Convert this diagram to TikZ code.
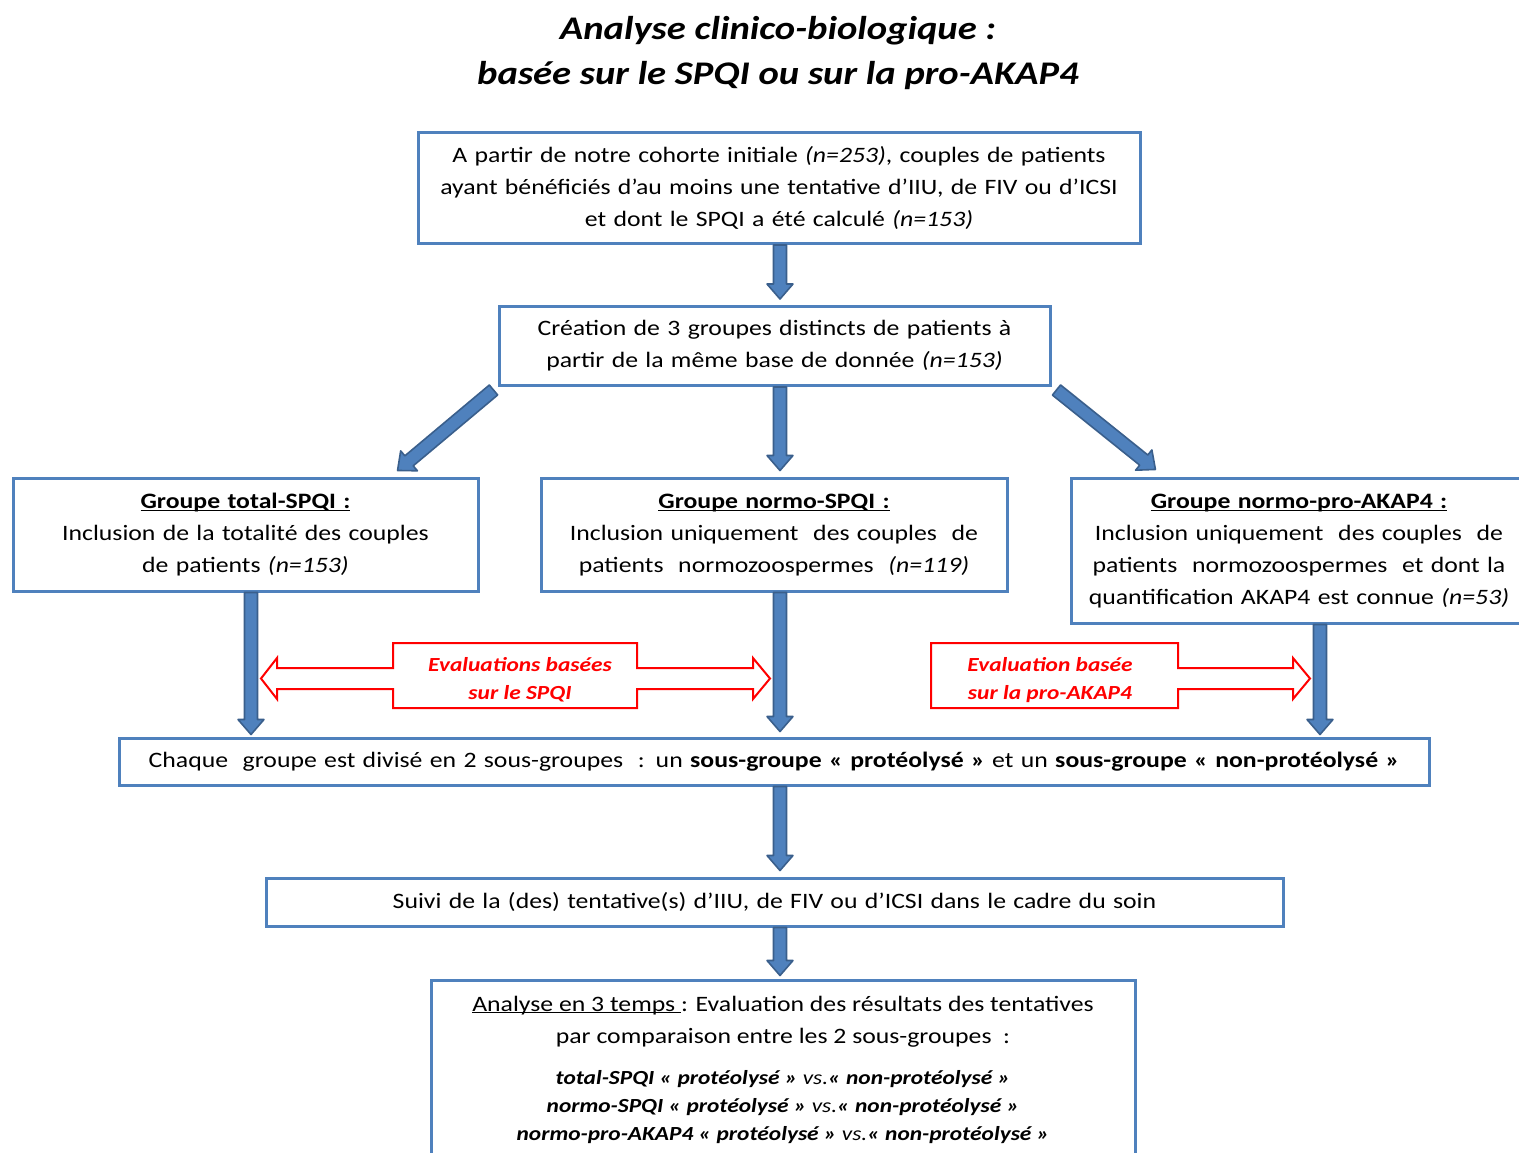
\documentclass[tikz,border=0pt]{standalone}
\usepackage{fontspec}
\setmainfont[FakeStretch=1.17]{Carlito}
\usetikzlibrary{calc}
\definecolor{bline}{RGB}{79,129,189}
\definecolor{bfill}{RGB}{79,129,189}
\definecolor{bdark}{RGB}{58,95,140}
\definecolor{rred}{RGB}{255,0,0}
\newcommand\ulx[1]{\underline{\smash{#1}}\vphantom{A(}}
\newcommand\blockarrow[2]{%
  \path[draw=bdark, fill=bfill, line width=1.6pt, line join=round]
    let \p1=#1, \p2=#2, \n1={veclen(\x2-\x1,\y2-\y1)}, \n2={atan2(\y2-\y1,\x2-\x1)} in
    [shift={(\p1)}, rotate=\n2]
    (0pt,-6.5pt) -- (\n1-15pt,-6.5pt) -- (\n1-15pt,-13pt) -- (\n1,0pt) -- (\n1-15pt,13pt) -- (\n1-15pt,6.5pt) -- (0pt,6.5pt) -- cycle;}
\tikzset{
  box/.style={draw=bline, line width=3pt, fill=white, inner sep=0pt, align=center,
    font=\fontsize{22}{32}\selectfont},
  redtxt/.style={text=rred, align=center, inner sep=0pt,
    font=\fontsize{20}{28}\selectfont\bfseries\itshape},
  callout/.style={draw=rred, line width=2pt, fill=white, line join=miter},
}
\begin{document}
\begin{tikzpicture}[x=1pt,y=-1pt]
\path[use as bounding box, fill=white] (0,0) rectangle (1519,1152);
\coordinate (axis) at (780,0);

\node[align=center, inner sep=0pt, font=\fontsize{33}{45}\selectfont\bfseries\itshape] (title) at (778,53)
  {Analyse clinico-biologique :\\basée sur le SPQI ou sur la pro-AKAP4};

\node[box, minimum width=722, minimum height=111, text width=712] (b1) at (779,188)
  {A partir de notre cohorte initiale \textit{(n=253)}, couples de patients\\
   ayant bénéficiés d’au moins une tentative d’IIU, de FIV ou d’ICSI\\
   et dont le SPQI a été calculé \textit{(n=153)}};

\node[box, minimum width=551, minimum height=79, text width=542] (b2) at (774.5,346)
  {Création de 3 groupes distincts de patients à\\
   partir de la même base de donnée \textit{(n=153)}};

\node[box, minimum width=465, minimum height=113, text width=458] (b3) at (245.5,534.5)
  {\textbf{\ulx{Groupe total-SPQI :}}\\
   Inclusion de la totalité des couples\\
   de patients \textit{(n=153)}};

\node[box, minimum width=466, minimum height=113, text width=458] (b4) at (774,534.5)
  {\textbf{\ulx{Groupe normo-SPQI :}}\\
   Inclusion uniquement \ des couples \ de\\
   patients \ normozoospermes \ \textit{(n=119)}};

\node[box, minimum width=456, minimum height=145, text width=452] (b5) at (1299,550.5)
  {\textbf{\ulx{Groupe normo-pro-AKAP4 :}}\\
   Inclusion uniquement \ des couples \ de\\
   patients \ normozoospermes \ et dont la\\
   quantification AKAP4 est connue \textit{(n=53)}};

\node[box, minimum width=1310, minimum height=47, text width=1302] (b6) at (774,761.5)
  {Chaque \ groupe est divisé en 2 sous-groupes \ : un \textbf{sous-groupe « protéolysé »} et un \textbf{sous-groupe « non-protéolysé »}};

\node[box, minimum width=1017, minimum height=48, text width=1007] (b7) at (774.5,902)
  {Suivi de la (des) tentative(s) d’IIU, de FIV ou d’ICSI dans le cadre du soin};

\node[box, minimum width=704, minimum height=190] (b8) at (783,1075) {};
\node[align=center, inner sep=0pt, font=\fontsize{22}{32}\selectfont] (b8a) at (783,1021)
  {\ulx{Analyse en 3 temps }: Evaluation des résultats des tentatives\\
   par comparaison entre les 2 sous-groupes \ :};
\node[align=center, inner sep=0pt, font=\fontsize{20}{28}\selectfont\bfseries\itshape] (b8b) at (783,1107)
  {total-SPQI « protéolysé » {\mdseries vs.}« non-protéolysé »\\
   normo-SPQI « protéolysé » {\mdseries vs.}« non-protéolysé »\\
   normo-pro-AKAP4 « protéolysé » {\mdseries vs.}« non-protéolysé »};

% block arrows
\blockarrow{(axis |- b1.south)}{($(axis |- b2.north)+(0,-6)$)}
\blockarrow{(axis |- b2.south)}{($(axis |- b4.north)+(0,-6)$)}
\blockarrow{($(b2.south west)+(-4,3)$)}{($(b3.north east)+(-82,-6)$)}
\blockarrow{($(b2.south east)+(5,3)$)}{($(b5.north west)+(86,-7)$)}
\blockarrow{($(b3.south)+(5.5,0)$)}{($(b3.south)+(5.5,0)+(0,142)$)}
\blockarrow{(axis |- b4.south)}{($(axis |- b6.north)+(0,-5)$)}
\blockarrow{($(b5.south)+(21,0)$)}{($(b5.south)+(21,0)+(0,110)$)}
\blockarrow{(axis |- b6.south)}{($(axis |- b7.north)+(0,-6)$)}
\blockarrow{(axis |- b7.south)}{($(axis |- b8.north)+(0,-3)$)}

% red callouts
\draw[callout] (393,643) -- (637,643) -- (637,668) -- (753,668) -- (753,658) -- (770,678.5) -- (753,699) -- (753,689) -- (637,689) -- (637,708) -- (393,708) -- (393,689) -- (277,689) -- (277,699) -- (261,678.5) -- (277,658) -- (277,668) -- (393,668) -- cycle;
\node[redtxt] (ev1) at (520,680) {Evaluations basées\\sur le SPQI};
\draw[callout] (931,643) -- (1178,643) -- (1178,668) -- (1293,668) -- (1293,658) -- (1310,678.5) -- (1293,699) -- (1293,689) -- (1178,689) -- (1178,708) -- (931,708) -- cycle;
\node[redtxt] (ev2) at (1050,680) {Evaluation basée\\sur la pro-AKAP4};
\end{tikzpicture}
\end{document}
